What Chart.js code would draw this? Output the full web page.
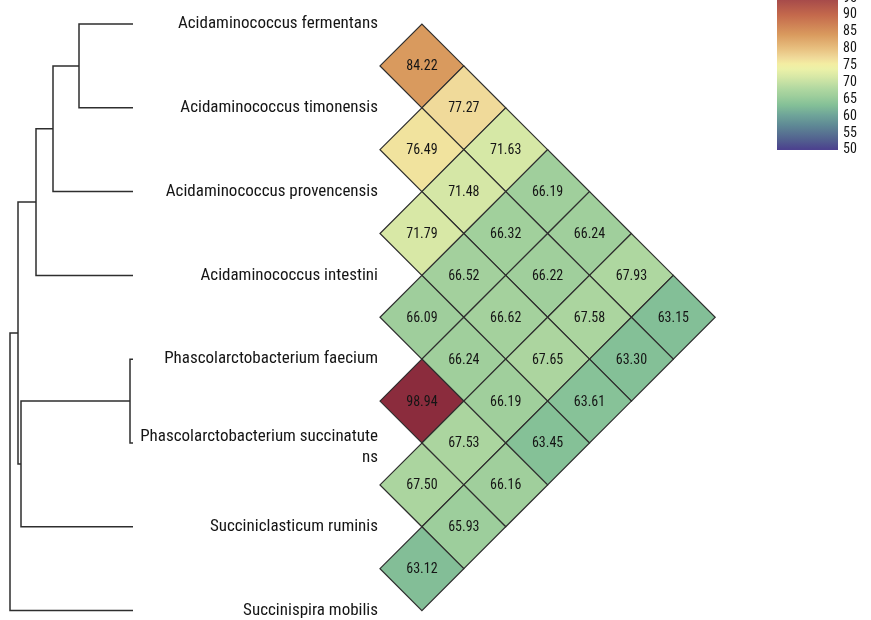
<!DOCTYPE html>
<html>
<head>
<meta charset="utf-8">
<script src="https://cdn.jsdelivr.net/npm/chart.js@4/dist/chart.umd.min.js"></script>
<style>
  html, body { margin: 0; padding: 0; background: #ffffff; }
  #wrap { width: 871px; height: 620px; }
</style>
</head>
<body>
<div id="wrap"><canvas id="c" width="871" height="620"></canvas></div>
<script>
// Species, in dendrogram order (top to bottom)
const species = [
  'Acidaminococcus fermentans',
  'Acidaminococcus timonensis',
  'Acidaminococcus provencensis',
  'Acidaminococcus intestini',
  'Phascolarctobacterium faecium',
  ['Phascolarctobacterium succinatute', 'ns'],
  'Succiniclasticum ruminis',
  'Succinispira mobilis'
];

// Pairwise ANI (%) of each species against every species below it
const aniFermentans   = [84.22, 77.27, 71.63, 66.19, 66.24, 67.93, 63.15];
const aniTimonensis   = [76.49, 71.48, 66.32, 66.22, 67.58, 63.30];
const aniProvencensis = [71.79, 66.52, 66.62, 67.65, 63.61];
const aniIntestini    = [66.09, 66.24, 66.19, 63.45];
const aniFaecium      = [98.94, 67.53, 66.16];
const aniSuccinatut   = [67.50, 65.93];
const aniRuminis      = [63.12];
const aniRows = [aniFermentans, aniTimonensis, aniProvencensis, aniIntestini,
                 aniFaecium, aniSuccinatut, aniRuminis];

// Clustering: leaves are 0..7, merge k creates node 8 + k
const mergeLeft   = [0, 8, 9, 4, 11, 10, 13];
const mergeRight  = [1, 2, 3, 5, 6, 12, 7];
const mergeHeight = [0.135, 0.2, 0.2425, 0.0075, 0.28, 0.2875, 0.3075];

// Colour scale
const legendTicks  = [50, 55, 60, 65, 70, 75, 80, 85, 90, 95];
const colourValues = [50, 53, 57.4, 60.4, 63.3, 66.2, 68, 71.7, 74, 75.5, 77.3, 80, 84.2, 90, 95, 100];
const colourHex    = ['#4b3f8e', '#52608f', '#5f8a95', '#6fa599', '#84c097', '#a0cf9c', '#afd7a0',
                      '#d7e8a6', '#ecf1a8', '#f3eda2', '#f0da9a', '#e8c080', '#d99a5e', '#c4694c',
                      '#a3474a', '#852539'];

const FONT = "'Roboto Condensed', 'Liberation Sans Narrow', 'DejaVu Sans Condensed', Roboto, sans-serif";

function hexToRgb(h) {
  return [parseInt(h.slice(1, 3), 16), parseInt(h.slice(3, 5), 16), parseInt(h.slice(5, 7), 16)];
}
function colourFor(v) {
  if (v <= colourValues[0]) return colourHex[0];
  for (let k = 1; k < colourValues.length; k++) {
    if (v <= colourValues[k]) {
      const t = (v - colourValues[k - 1]) / (colourValues[k] - colourValues[k - 1]);
      const a = hexToRgb(colourHex[k - 1]), b = hexToRgb(colourHex[k]);
      const c = a.map((av, n) => Math.round(av + (b[n] - av) * t));
      return `rgb(${c[0]},${c[1]},${c[2]})`;
    }
  }
  return colourHex[colourHex.length - 1];
}

// Diamond cells: x = distance between the two species, y = midpoint of their rows
const cells = [];
aniRows.forEach((row, i) => {
  row.forEach((v, k) => {
    const j = i + 1 + k;
    cells.push({ x: j - i, y: (i + j) / 2, v: v });
  });
});

// Dendrogram segments, one bracket per merge
const nodeY = species.map((_, i) => i);
const nodeH = species.map(() => 0);
const treeSets = mergeLeft.map((l, k) => {
  const r = mergeRight[k], h = mergeHeight[k];
  nodeY.push((nodeY[l] + nodeY[r]) / 2);
  nodeH.push(h);
  return {
    type: 'scatter',
    xAxisID: 'xd',
    showLine: true,
    data: [
      { x: nodeH[l], y: nodeY[l] },
      { x: h, y: nodeY[l] },
      { x: h, y: nodeY[r] },
      { x: nodeH[r], y: nodeY[r] }
    ],
    borderColor: '#2e2e2e',
    borderWidth: 1.5,
    pointRadius: 0,
    tension: 0,
    fill: false
  };
});

function cellRadius(ctx) {
  const s = ctx.chart.scales.y;
  return Math.abs(s.getPixelForValue(1) - s.getPixelForValue(0)) / 2;
}

const textPlugin = {
  id: 'texts',
  afterDatasetsDraw(chart) {
    const ctx = chart.ctx;
    const xs = chart.scales.x, ys = chart.scales.y, yc = chart.scales.yc;
    ctx.save();

    // species names, right aligned against the heatmap
    ctx.font = '17px ' + FONT;
    ctx.fillStyle = '#151515';
    ctx.textAlign = 'right';
    ctx.textBaseline = 'middle';
    const xr = xs.getPixelForValue(0) - 2;
    species.forEach((name, i) => {
      const y = ys.getPixelForValue(i);
      if (Array.isArray(name)) {
        name.forEach((ln, n) => ctx.fillText(ln, xr, y - 6 + 21 * n));
      } else {
        ctx.fillText(name, xr, y);
      }
    });

    // values inside the cells
    ctx.font = '14px ' + FONT;
    ctx.textAlign = 'center';
    ctx.fillStyle = '#151515';
    chart.getDatasetMeta(0).data.forEach((pt, k) => {
      ctx.fillText(cells[k].v.toFixed(2), pt.x, pt.y + 1);
    });

    // colour bar
    const x0 = 777, x1 = 838;
    const yTop = yc.getPixelForValue(100), yBot = yc.getPixelForValue(50);
    const grad = ctx.createLinearGradient(0, yBot, 0, yTop);
    colourValues.forEach((v, k) => grad.addColorStop((v - 50) / 50, colourHex[k]));
    ctx.fillStyle = grad;
    ctx.fillRect(x0, yTop, x1 - x0, yBot - yTop);
    ctx.font = '14px ' + FONT;
    ctx.fillStyle = '#151515';
    ctx.textAlign = 'left';
    legendTicks.forEach(t => ctx.fillText(String(t), x1 + 5, yc.getPixelForValue(t)));

    ctx.restore();
  }
};

new Chart(document.getElementById('c'), {
  type: 'scatter',
  data: {
    datasets: [{
      data: cells,
      pointStyle: 'rectRot',
      pointRadius: cellRadius,
      pointHoverRadius: cellRadius,
      pointBackgroundColor: ctx => colourFor(ctx.raw ? ctx.raw.v : 50),
      pointBorderColor: '#2e2e2e',
      pointBorderWidth: 1.2
    }].concat(treeSets)
  },
  options: {
    responsive: false,
    animation: false,
    devicePixelRatio: 1,
    layout: { padding: 0 },
    events: [],
    plugins: { legend: { display: false }, tooltip: { enabled: false } },
    scales: {
      x:  { type: 'linear', min: -9.069, max: 11.718, display: false },
      y:  { type: 'linear', reverse: true, min: -0.2864, max: 7.1122, display: false },
      xd: { type: 'linear', axis: 'x', reverse: true, min: -1.8450, max: 0.3325, display: false },
      yc: { type: 'linear', axis: 'y', min: -89.26, max: 94.44, display: false }
    }
  },
  plugins: [textPlugin]
});
</script>
</body>
</html>
